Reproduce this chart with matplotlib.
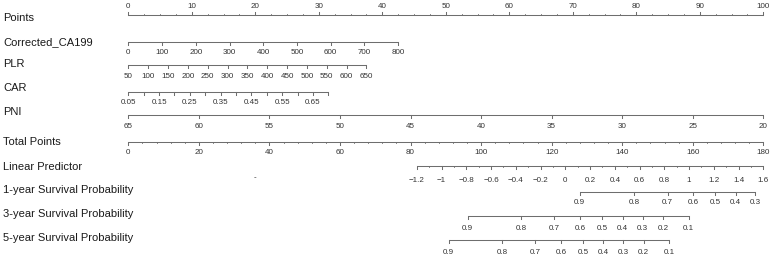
import numpy as np
import matplotlib
matplotlib.use("Agg")
import matplotlib.pyplot as plt

plt.rcParams['font.family'] = ['Liberation Sans', 'DejaVu Sans']

# ---------------- data ----------------
row_labels = ["Points", "Corrected_CA199", "PLR", "CAR", "PNI", "Total Points",
              "Linear Predictor", "1-year Survival Probability",
              "3-year Survival Probability", "5-year Survival Probability"]

points_major = list(range(0, 101, 10))
points_minor = list(np.arange(0, 100.1, 2.5))

ca199_values = [0, 100, 200, 300, 400, 500, 600, 700, 800]
ca199_points = [0.0, 42.5]          # points at 0 and at 800

plr_values = [50, 100, 150, 200, 250, 300, 350, 400, 450, 500, 550, 600, 650]
plr_points = [0.0, 37.5]            # points at 50 and 650

car_ticks = [0.05, 0.10, 0.15, 0.20, 0.25, 0.30, 0.35, 0.40, 0.45, 0.50, 0.55, 0.60, 0.65, 0.70]
car_labels = [0.05, 0.15, 0.25, 0.35, 0.45, 0.55, 0.65]
car_points = [0.0, 31.5]            # points at 0.05 and 0.70

pni_values = [65, 60, 55, 50, 45, 40, 35, 30, 25, 20]
pni_points = [0.0, 100.0]           # points at 65 and 20

total_major = list(range(0, 181, 20))
total_minor = list(range(0, 181, 4))
total_max = 180

lp_labels = [-1.2, -1, -0.8, -0.6, -0.4, -0.2, 0, 0.2, 0.4, 0.6, 0.8, 1, 1.2, 1.4, 1.6]
lp_minor = list(np.round(np.arange(-1.2, 1.61, 0.1), 2))
lp_total = [81.8, 180.0]            # total points at LP -1.2 and 1.6

surv1_labels = [0.9, 0.8, 0.7, 0.6, 0.5, 0.4, 0.3]
surv1_total = [127.9, 143.4, 152.9, 160.1, 166.4, 172.2, 177.7]
surv3_labels = [0.9, 0.8, 0.7, 0.6, 0.5, 0.4, 0.3, 0.2, 0.1]
surv3_total = [96.2, 111.4, 120.8, 128.1, 134.3, 140.1, 145.8, 151.7, 158.8]
surv5_labels = [0.9, 0.8, 0.7, 0.6, 0.5, 0.4, 0.3, 0.2, 0.1]
surv5_total = [90.8, 105.9, 115.4, 122.7, 128.9, 134.6, 140.2, 146.1, 153.4]

# ---------------- layout ----------------
W, H = 774, 257
fig = plt.figure(figsize=(W / 100, H / 100), dpi=100)
ax = fig.add_axes([0, 0, 1, 1])
x0_px, ppu = 128.3, 6.35  # pixel of 0 points, pixels per point
ax.set_xlim(-x0_px / ppu, (W - x0_px) / ppu)
ax.set_ylim(H, 0)
ax.axis('off')

LINE_C = '#6e6e6e'
TXT_C = '#333333'
LAB_C = '#1a1a1a'
TICK_FS = 5.8
LAB_FS = 8

def lin(vals, v0, v1, p0, p1):
    vals = np.asarray(vals, dtype=float)
    return p0 + (vals - v0) / (v1 - v0) * (p1 - p0)

def tp_to_pts(tp):
    return np.asarray(tp, dtype=float) * 100.0 / total_max

def scale(y, pos, above, minor=None, tick_px=3.0, minor_px=1.6):
    pos = np.asarray(pos, dtype=float)
    ax.plot([pos.min(), pos.max()], [y, y], color=LINE_C, lw=0.75, solid_capstyle='butt')
    d = -1 if above else 1
    for p in pos:
        ax.plot([p, p], [y, y + d * tick_px], color=LINE_C, lw=0.75)
    if minor is not None:
        for p in minor:
            ax.plot([p, p], [y, y + d * minor_px], color=LINE_C, lw=0.6)
    return pos

def put_labels(ly, pos, texts):
    for p, t in zip(pos, texts):
        ax.text(p, ly, t, ha='center', va='center', fontsize=TICK_FS, color=TXT_C)

def fmt(v):
    s = ('%g' % v)
    return s.replace('-', '\u2212')

rows_y = [18.3, 41.7, 64, 88.3, 111.7, 142.3, 166.7, 190, 214.3, 238.3]
trans = matplotlib.transforms.blended_transform_factory(
    matplotlib.transforms.IdentityTransform(), ax.transData)
for lab, yy in zip(row_labels, rows_y):
    ax.text(3, yy, lab, ha='left', va='center', fontsize=LAB_FS, color=LAB_C, transform=trans)

# Points
scale(15, points_major, True, minor=points_minor, tick_px=3.0, minor_px=1.5)
put_labels(6, points_major, [fmt(v) for v in points_major])

# Corrected_CA199
p = lin(ca199_values, ca199_values[0], ca199_values[-1], *ca199_points)
scale(42.3, p, False)
put_labels(52.5, p, [fmt(v) for v in ca199_values])

# PLR
p = lin(plr_values, plr_values[0], plr_values[-1], *plr_points)
scale(65, p, False)
put_labels(76, p, [fmt(v) for v in plr_values])

# CAR
p = lin(car_ticks, car_ticks[0], car_ticks[-1], *car_points)
scale(91.7, p, False)
pl = lin(car_labels, car_ticks[0], car_ticks[-1], *car_points)
put_labels(103, pl, ['%.2f' % v for v in car_labels])

# PNI
p = lin(pni_values, pni_values[0], pni_values[-1], *pni_points)
scale(115, p, False)
put_labels(127, p, [fmt(v) for v in pni_values])

# Total points
p = tp_to_pts(total_major)
scale(141.7, p, False, minor=tp_to_pts(total_minor), tick_px=3.0, minor_px=1.6)
put_labels(153, p, [fmt(v) for v in total_major])

# Linear predictor
lp_tp = lin(lp_labels, lp_labels[0], lp_labels[-1], *lp_total)
p = tp_to_pts(lp_tp)
mp = tp_to_pts(lin(lp_minor, lp_labels[0], lp_labels[-1], *lp_total))
scale(165.5, p, False, minor=mp, tick_px=3.0, minor_px=1.6)
put_labels(180, p, [fmt(v) for v in lp_labels])
ax.text(tp_to_pts(36.0), 178, '-', ha='center', va='center', fontsize=TICK_FS, color=TXT_C)

# Survival probabilities
for yline, ylab, tots, labs in [(191.7, 203, surv1_total, surv1_labels),
                                (215.7, 228, surv3_total, surv3_labels),
                                (240, 252, surv5_total, surv5_labels)]:
    p = tp_to_pts(tots)
    scale(yline, p, False)
    put_labels(ylab, p, [fmt(v) for v in labs])

fig.savefig('out.png', dpi=100, facecolor='white')
